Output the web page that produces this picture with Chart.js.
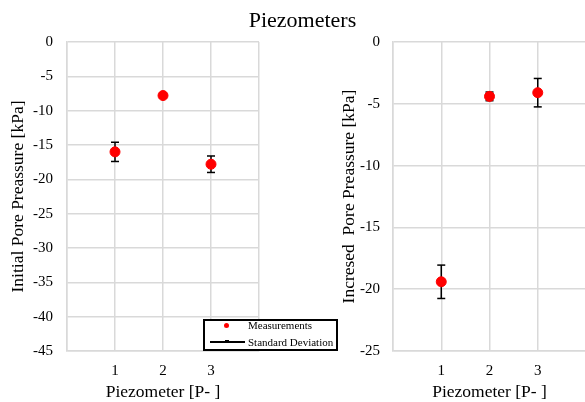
<!DOCTYPE html>
<html>
<head>
<meta charset="utf-8">
<script src="https://cdn.jsdelivr.net/npm/chart.js@4/dist/chart.umd.min.js"></script>
<style>
  html, body { margin: 0; padding: 0; background: #fff; }
  #wrap { position: relative; width: 585px; height: 402px; overflow: hidden; background: #fff; font-family: 'Liberation Serif', 'Times New Roman', serif; }
  #title { position: absolute; left: 0; width: 605px; top: 9px; text-align: center; font-size: 22px; line-height: 1; color: #000; }
  #cl { position: absolute; left: 0; top: 0; }
  #cr { position: absolute; left: 320px; top: 0; }
  #legend { position: absolute; left: 203px; top: 319px; width: 135px; height: 32px; box-sizing: border-box; border: 2px solid #000; background: #fff; font-size: 11px; color: #000; }
  #legend .dot { position: absolute; left: 19px; top: 2px; width: 5px; height: 5px; border-radius: 50%; background: #ff0000; }
  #legend .line { position: absolute; left: 5px; top: 20px; width: 35px; height: 1.5px; background: #000; }
  #legend .mk { position: absolute; left: 20px; top: 19px; width: 4px; height: 3px; background: #000; }
  #legend .t1 { position: absolute; left: 43px; top: -3px; line-height: 14px; }
  #legend .t2 { position: absolute; left: 43px; top: 14px; line-height: 14px; }
</style>
</head>
<body>
<div id="wrap">
  <canvas id="cl" width="300" height="402"></canvas>
  <canvas id="cr" width="277" height="402"></canvas>
  <div id="title">Piezometers</div>
  <div id="legend">
    <div class="dot"></div><div class="t1">Measurements</div>
    <div class="line"></div><div class="mk"></div><div class="t2">Standard Deviation</div>
  </div>
</div>
<script>
// ---- data ----
const piezometerPositions = [1, 2, 3];
const piezometerLabels = ['1', '2', '3'];
const initialMean = [-16.0, -7.8, -17.8];
const initialSD = [1.4, 0.3, 1.2];
const increasedMean = [-19.4, -4.4, -4.1];
const increasedSD = [1.35, 0.35, 1.15];

const FONT = "'Liberation Serif', 'Times New Roman', serif";
const GRID = '#d9d9d9';

function points(means) {
  return piezometerPositions.map((x, i) => ({ x: x, y: means[i] }));
}
function errorSegments(means, sds) {
  const out = [];
  piezometerPositions.forEach((x, i) => {
    out.push({ x: x, y: means[i] - sds[i] });
    out.push({ x: x, y: means[i] + sds[i] });
    out.push({ x: x, y: null });
  });
  return out;
}

function makeChart(canvasId, means, sds, yMin, yTitle, opts) {
  return new Chart(document.getElementById(canvasId), {
    type: 'scatter',
    data: {
      datasets: [
        {
          label: 'Measurements',
          data: points(means),
          backgroundColor: '#ff0000',
          borderColor: '#ff0000',
          pointRadius: 5,
          pointHoverRadius: 5
        },
        {
          label: 'Standard Deviation',
          data: errorSegments(means, sds),
          showLine: true,
          spanGaps: false,
          borderColor: '#000',
          borderWidth: 1.5,
          pointStyle: 'line',
          pointRadius: 4,
          pointHoverRadius: 4,
          pointBorderColor: '#000',
          pointBorderWidth: 1.5
        }
      ]
    },
    options: {
      responsive: false,
      animation: false,
      devicePixelRatio: 1,
      layout: { padding: { top: 42, left: 0, right: opts.padRight, bottom: 0 } },
      plugins: { legend: { display: false }, tooltip: { enabled: false } },
      scales: {
        x: {
          type: 'linear',
          min: 0, max: 4,
          grid: { color: GRID, lineWidth: 1.5, drawTicks: false },
          border: { color: GRID, width: 1.5 },
          ticks: {
            stepSize: 1,
            padding: 11,
            color: '#000',
            font: { family: FONT, size: 15 },
            callback: (v) => {
              const i = piezometerPositions.indexOf(v);
              return i >= 0 ? piezometerLabels[i] : '';
            }
          },
          title: { display: true, text: 'Piezometer [P- ]', color: '#000', font: { family: FONT, size: 17.5 }, padding: { top: 0, bottom: -1 } },
          afterFit: (s) => { s.height = 51; }
        },
        y: {
          min: yMin, max: 0,
          grid: { color: GRID, lineWidth: 1.5, drawTicks: false },
          border: { color: GRID, width: 1.5 },
          ticks: { stepSize: 5, padding: opts.tickPad, color: '#000', font: { family: FONT, size: 15 } },
          title: { display: true, text: yTitle, color: '#000', font: { family: FONT, size: 17.5 }, padding: { top: opts.titlePad, bottom: 0 } },
          afterFit: (s) => { s.width = opts.yWidth; }
        }
      }
    }
  });
}

makeChart('cl', initialMean, initialSD, -45, 'Initial Pore Preassure [kPa]', { padRight: 41, tickPad: 14, titlePad: 7.5, yWidth: 67 });
makeChart('cr', increasedMean, increasedSD, -25, 'Incresed  Pore Preassure [kPa]', { padRight: 0, tickPad: 13, titlePad: 19, yWidth: 73 });
</script>
</body>
</html>
